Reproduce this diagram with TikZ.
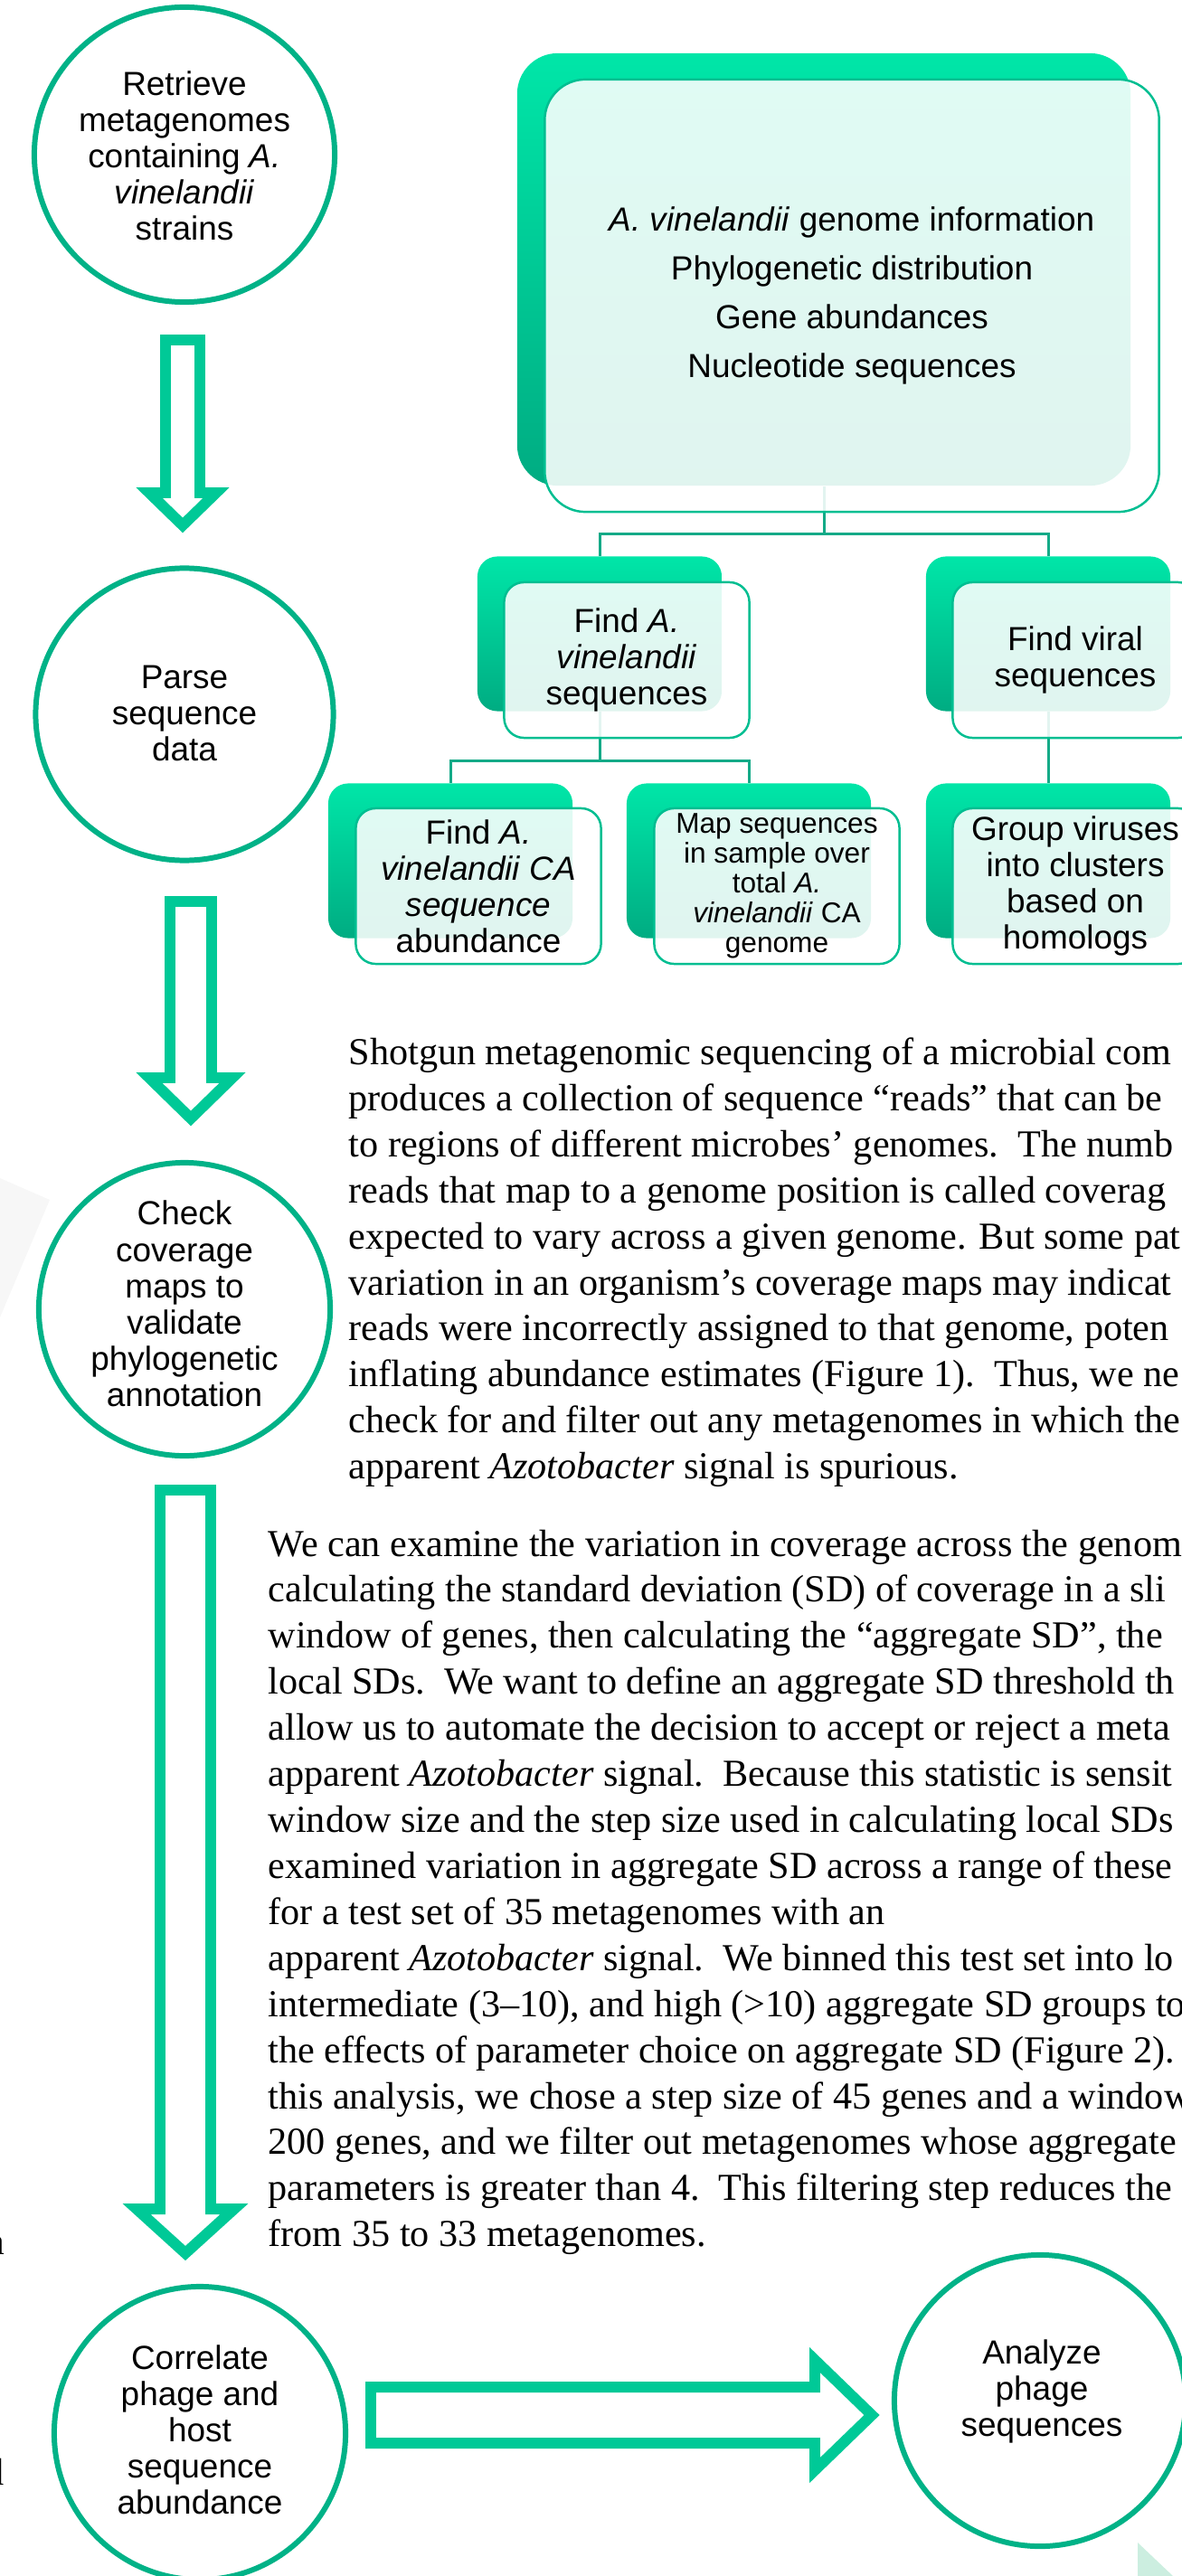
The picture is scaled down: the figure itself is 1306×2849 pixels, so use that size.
\documentclass[tikz,border=0pt]{standalone}
\usepackage{fontspec}
\setmainfont{Liberation Serif}
\newfontfamily\arialfont{Liberation Sans}
\usetikzlibrary{shapes.geometric}

\definecolor{ringteal}{RGB}{0,178,135}
\definecolor{arrowteal}{RGB}{0,201,151}
\definecolor{frontteal}{RGB}{0,190,145}
\definecolor{linkteal}{RGB}{20,170,135}
\definecolor{boxtop}{RGB}{0,230,168}
\definecolor{boxbottom}{RGB}{0,172,130}
\definecolor{mintpale}{RGB}{204,238,224}

\begin{document}
\begin{tikzpicture}[x=0.01cm, y=-0.01cm,
  ring/.style={ellipse, draw=ringteal, line width=1.7pt, inner sep=0},
  ringtext/.style={font=\arialfont\fontsize{10.5}{11.4}\selectfont, align=center, inner sep=0},
  backbox/.style={rectangle, rounded corners=0.22cm, top color=boxtop, bottom color=boxbottom, inner sep=0, minimum width=2.70cm, minimum height=1.71cm},
  frontbox/.style={rectangle, rounded corners=0.22cm, draw=frontteal, line width=0.7pt, fill=white, fill opacity=0.88, text opacity=1, inner sep=0, minimum width=2.71cm, minimum height=1.72cm, align=center, font=\arialfont\fontsize{10.5}{11.4}\selectfont},
  link/.style={draw=linkteal, line width=0.85pt},
  blockarrow/.style={draw=arrowteal, line width=3.4pt, fill=white},
  bodytext/.style={font=\fontsize{12}{14.48}\selectfont, align=left, inner sep=0, anchor=north west}]
\useasboundingbox (0,0) rectangle (1306,2849);

% faint shapes at the edges
\fill[black!3] (0,1303) -- (55,1327) -- (0,1457) -- cycle;
\fill[mintpale] (1258,2812) -- (1297,2849) -- (1258,2849) -- cycle;

% steps on the left
\node[ring, minimum width=3.32cm, minimum height=3.26cm] (retrieve) at (204,171) {};
\node[ringtext] (retrievetext) at (204,172) {Retrieve\\metagenomes\\containing \textit{A.}\\\textit{vinelandii}\\strains};
\node[ring, minimum width=3.29cm, minimum height=3.23cm] (parse) at (204,790) {};
\node[ringtext] (parsetext) at (204,789) {Parse\\sequence\\data};
\node[ring, minimum width=3.22cm, minimum height=3.24cm] (check) at (204,1448) {};
\node[ringtext] (checktext) at (204,1442) {Check\\coverage\\maps to\\validate\\phylogenetic\\annotation};
\node[ring, minimum width=3.22cm, minimum height=3.24cm] (correlate) at (221,2691) {};
\node[ringtext] (correlatetext) at (221,2687) {Correlate\\phage and\\host\\sequence\\abundance};
\node[ring, minimum width=3.22cm, minimum height=3.22cm] (analyze) at (1150,2655) {};
\node[ringtext] (analyzetext) at (1152,2645) {Analyze\\phage\\sequences};

% block arrows
\draw[blockarrow] (183,376) -- (221,376) -- (221,545) -- (239,545) -- (202,581) -- (165,545) -- (183,545) -- cycle;
\draw[blockarrow] (188,997) -- (234,997) -- (234,1192) -- (257,1192) -- (211,1237) -- (165,1192) -- (188,1192) -- cycle;
\draw[blockarrow] (177,1648) -- (233,1648) -- (233,2443) -- (259,2443) -- (205,2492) -- (151,2443) -- (177,2443) -- cycle;
\draw[blockarrow] (410,2640) -- (901,2640) -- (901,2610) -- (964,2671) -- (901,2732) -- (901,2702) -- (410,2702) -- cycle;

% hierarchy: back boxes
\node[backbox, rounded corners=0.45cm, minimum width=6.78cm, minimum height=4.78cm] (infoback) at (911,298) {};
\node[backbox] (findavback) at (663,701) {};
\node[backbox] (findvirback) at (1159,701) {};
\node[backbox] (abundback) at (498,952) {};
\node[backbox] (mapback) at (828,952) {};
\node[backbox] (groupback) at (1159,952) {};

\draw[link] (infoback.south) -- ++(0,53) -| (findavback.north);
\draw[link] (infoback.south) -- ++(0,53) -| (findvirback.north);
\draw[link] (findavback.south) -- ++(0,54) -| (abundback.north);
\draw[link] (findavback.south) -- ++(0,54) -| (mapback.north);
\draw[link] (findvirback.south) -- (groupback.north);

% front boxes
\node[frontbox, rounded corners=0.45cm, minimum width=6.79cm, minimum height=4.78cm, font=\arialfont\fontsize{10.5}{15.4}\selectfont] (info) at (942,327) {\textit{A. vinelandii} genome information\\Phylogenetic distribution\\Gene abundances\\Nucleotide sequences};
\node[frontbox] (findav) at (693,730) {Find \textit{A.}\\\textit{vinelandii}\\sequences};
\node[frontbox] (findvir) at (1189,730) {Find viral\\sequences};
\node[frontbox] (abund) at (529,980) {Find \textit{A.}\\\textit{vinelandii CA}\\\textit{sequence}\\abundance};
\node[frontbox, font=\arialfont\fontsize{9}{9.4}\selectfont] (mapseq) at (859,980) {Map sequences\\in sample over\\total \textit{A.}\\\textit{vinelandii} CA\\genome};
\node[frontbox] (group) at (1189,980) {Group viruses\\into clusters\\based on\\homologs};

% body text
\node[bodytext] (shotgun) at (385,1147) {Shotgun metagenomic sequencing of a microbial com\\
produces a collection of sequence “reads” that can be\\
to regions of different microbes’ genomes.\ \ The numb\\
reads that map to a genome position is called coverag\\
expected to vary across a given genome. But some pat\\
variation in an organism’s coverage maps may indicat\\
reads were incorrectly assigned to that genome, poten\\
inflating abundance estimates (Figure 1).\ \ Thus, we ne\\
check for and filter out any metagenomes in which the\\
apparent \textit{Azotobacter} signal is spurious.};
\node[bodytext] (examine) at (296,1691) {We can examine the variation in coverage across the genom\\
calculating the standard deviation (SD) of coverage in a sli\\
window of genes, then calculating the “aggregate SD”, the\\
local SDs.\ \ We want to define an aggregate SD threshold th\\
allow us to automate the decision to accept or reject a meta\\
apparent \textit{Azotobacter} signal.\ \ Because this statistic is sensit\\
window size and the step size used in calculating local SDs\\
examined variation in aggregate SD across a range of these\\
for a test set of 35 metagenomes with an\\
apparent \textit{Azotobacter} signal.\ \ We binned this test set into lo\\
intermediate (3–10), and high (>10) aggregate SD groups to\\
the effects of parameter choice on aggregate SD (Figure 2).\\
this analysis, we chose a step size of 45 genes and a window\\
200 genes, and we filter out metagenomes whose aggregate\\
parameters is greater than 4.\ \ This filtering step reduces the\\
from 35 to 33 metagenomes.};
\node[bodytext, anchor=base east] (edgea) at (6,2493) {a};
\node[bodytext, anchor=base east] (edged) at (5,2748) {d};
\end{tikzpicture}
\end{document}
